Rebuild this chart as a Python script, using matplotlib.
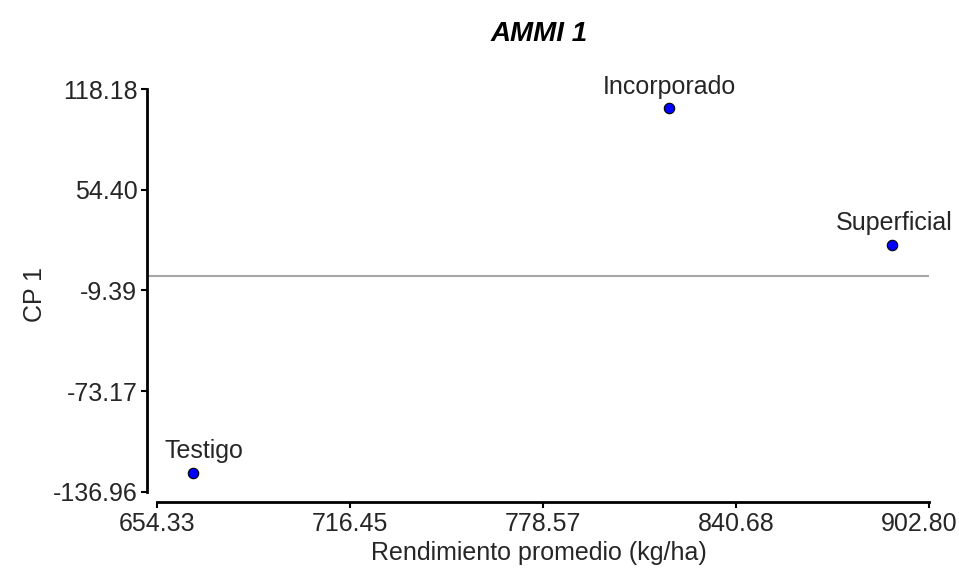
import matplotlib
matplotlib.use("Agg")
import matplotlib.pyplot as plt
from matplotlib.transforms import ScaledTranslation

# AMMI 1 biplot: mean yield vs first principal component score
treatments = ["Testigo", "Incorporado", "Superficial"]
yield_mean = [665.8, 819.2, 890.8]
cp1 = [-124.9, 106.1, 19.5]

xticks = [654.33, 716.45, 778.57, 840.68, 902.80]
yticks = [-136.96, -73.17, -9.39, 54.40, 118.18]

# label offsets in points (x, y)
label_offsets = {"Testigo": (8, 7), "Incorporado": (0, 7), "Superficial": (2, 7)}

plt.rcParams['font.family'] = ['Liberation Sans', 'DejaVu Sans']
text_color = "#262626"
fs = 18

fig = plt.figure(figsize=(9.59, 5.69), dpi=100)
ax = fig.add_axes([0.1533, 0.1178, 0.8175, 0.7275])

ax.set_xlim(651.11, 903.44)
ax.set_ylim(-143.49, 119.0)

ax.hlines(0, 651.11, xticks[-1], color="#a6a6a6", lw=1.5, zorder=1)

ax.plot(yield_mean, cp1, "o", ms=7.5, mfc="#0000ff", mec="black", mew=0.8, zorder=3)
for name, x, y in zip(treatments, yield_mean, cp1):
    ax.annotate(name, (x, y), xytext=label_offsets[name], textcoords="offset points",
                ha="center", va="bottom", fontsize=fs, color=text_color)

ax.set_xticks(xticks)
ax.set_xticklabels([f"{v:.2f}" for v in xticks])
ax.set_yticks(yticks)
ax.set_yticklabels([f"{v:.2f}" for v in yticks])

for side in ["top", "right"]:
    ax.spines[side].set_visible(False)
ax.spines["left"].set_bounds(yticks[0], yticks[-1])
ax.spines["bottom"].set_bounds(xticks[0], xticks[-1])
ax.spines["left"].set_linewidth(2)
ax.spines["bottom"].set_linewidth(2)

ax.tick_params(axis="both", length=4, width=1.5, labelsize=fs, labelcolor=text_color, pad=3)

# keep the last x tick label inside the figure
last = ax.get_xticklabels()[-1]
last.set_transform(last.get_transform() + ScaledTranslation(-10 / 100, 0, fig.dpi_scale_trans))

ax.set_xlabel("Rendimiento promedio (kg/ha)", fontsize=fs, color=text_color, labelpad=4)
ax.set_ylabel("CP 1", fontsize=fs, color=text_color, labelpad=4)
ax.set_title("AMMI 1", fontsize=20, fontweight="bold", fontstyle="italic", color="black", pad=34)

fig.savefig("out.png", dpi=100)
